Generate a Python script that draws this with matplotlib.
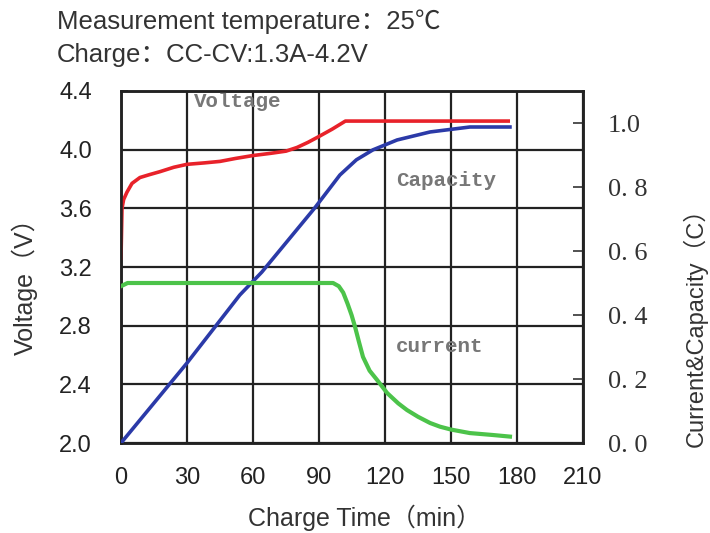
import matplotlib
matplotlib.use("Agg")
import matplotlib.pyplot as plt
import numpy as np

# Data
v_time = [0, 0.45, 1.2, 2.7, 5, 8.6, 13, 17.7, 24, 30, 38, 45, 52, 60, 68, 75, 80, 85, 90, 96, 102, 120, 150, 176]
v_volt = [3.26, 3.6, 3.66, 3.71, 3.77, 3.81, 3.83, 3.85, 3.88, 3.90, 3.91, 3.92, 3.94, 3.96, 3.975, 3.99, 4.015, 4.05, 4.09, 4.14, 4.195, 4.195, 4.195, 4.195]

c_time = [0, 30, 54, 64, 88, 99.5, 107, 114.5, 125.5, 140.5, 158.6, 176.8]
c_cap = [0.0, 0.25, 0.4625, 0.534, 0.734, 0.8375, 0.885, 0.916, 0.947, 0.972, 0.9875, 0.9875]

i_time = [0, 3, 30, 60, 90, 96.4, 99, 101, 103, 104.8, 106.4, 108.2, 110, 113, 116.4, 121, 126, 130, 135, 140.5, 145, 150, 158.6, 169, 176.8]
i_curr = [0.49, 0.5, 0.5, 0.5, 0.5, 0.5, 0.49, 0.47, 0.435, 0.40, 0.3625, 0.315, 0.269, 0.226, 0.197, 0.156, 0.124, 0.103, 0.082, 0.0625, 0.051, 0.042, 0.031, 0.025, 0.02]

x_ticks = [0, 30, 60, 90, 120, 150, 180, 210]
v_ticks = [2.0, 2.4, 2.8, 3.2, 3.6, 4.0, 4.4]
v_labels = ["2.0", "2.4", "2.8", "3.2", "3.6", "4.0", "4.4"]
r_ticks = [0.0, 0.2, 0.4, 0.6, 0.8, 1.0]
r_labels = ["0. 0", "0. 2", "0. 4", "0. 6", "0. 8", "1.0"]

sans = ["Liberation Sans", "Noto Sans CJK SC", "DejaVu Sans"]
serif = ["Liberation Serif", "DejaVu Serif"]
mono = ["Liberation Mono", "DejaVu Sans Mono"]

fig = plt.figure(figsize=(7.10, 5.33), dpi=100)
ax = fig.add_axes([121/710, 1-443/533, (583-121)/710, (443-91)/533])
ax2 = ax.twinx()

ax.set_xlim(0, 210)
ax.set_ylim(2.0, 4.4)
ax2.set_ylim(0, 1.1)

ax.set_xticks(x_ticks)
ax.set_xticklabels([str(t) for t in x_ticks], fontfamily=sans, fontsize=17, color="#222222")
ax.set_yticks(v_ticks)
ax.set_yticklabels(v_labels, fontfamily=sans, fontsize=17, color="#222222")
ax.grid(True, color="#222222", linewidth=1.6)
ax.tick_params(axis="x", direction="in", length=5, width=1.2, pad=17, color="#222222")
ax.tick_params(axis="y", direction="in", length=5, width=1.2, pad=21, color="#222222")

ax2.set_yticks(r_ticks)
ax2.set_yticklabels(r_labels, fontfamily=serif, fontsize=19, color="#333333")
ax2.tick_params(axis="y", direction="in", length=7, width=1.2, pad=18, color="#333333")

for a in (ax, ax2):
    for s in a.spines.values():
        s.set_linewidth(1.8)
        s.set_color("#222222")

ax.plot(v_time, v_volt, color="#e8222a", linewidth=2.6, zorder=5)
ax2.plot(c_time, c_cap, color="#2b3aa8", linewidth=2.6, zorder=5)
ax2.plot(i_time, i_curr, color="#4cc34a", linewidth=3.0, zorder=5)

ax.text(33, 4.33, "Voltage", fontfamily=mono, fontsize=15, fontweight="bold", color="#777777", va="center", ha="left")
ax2.text(125, 0.82, "Capacity", fontfamily=mono, fontsize=15, fontweight="bold", color="#777777", va="center", ha="left")
ax2.text(125, 0.30, "current", fontfamily=mono, fontsize=15, fontweight="bold", color="#777777", va="center", ha="left")

fig.text(57/710, 1-22/533, "Measurement temperature：25℃", fontfamily=sans, fontsize=18.5, color="#333333", va="center", ha="left")
fig.text(57/710, 1-55/533, "Charge：CC-CV:1.3A-4.2V", fontfamily=sans, fontsize=18.5, color="#333333", va="center", ha="left")
fig.text(365/710, 1-518/533, "Charge Time（min）", fontfamily=sans, fontsize=18, color="#333333", va="center", ha="center")
fig.text(25/710, 1-280/533, "Voltage（V）", fontfamily=sans, fontsize=18, color="#333333", va="center", ha="center", rotation=90)
fig.text(695/710, 1-322/533, "Current&Capacity（C）", fontfamily=sans, fontsize=17, color="#333333", va="center", ha="center", rotation=90)

fig.savefig("out.png", dpi=100)
